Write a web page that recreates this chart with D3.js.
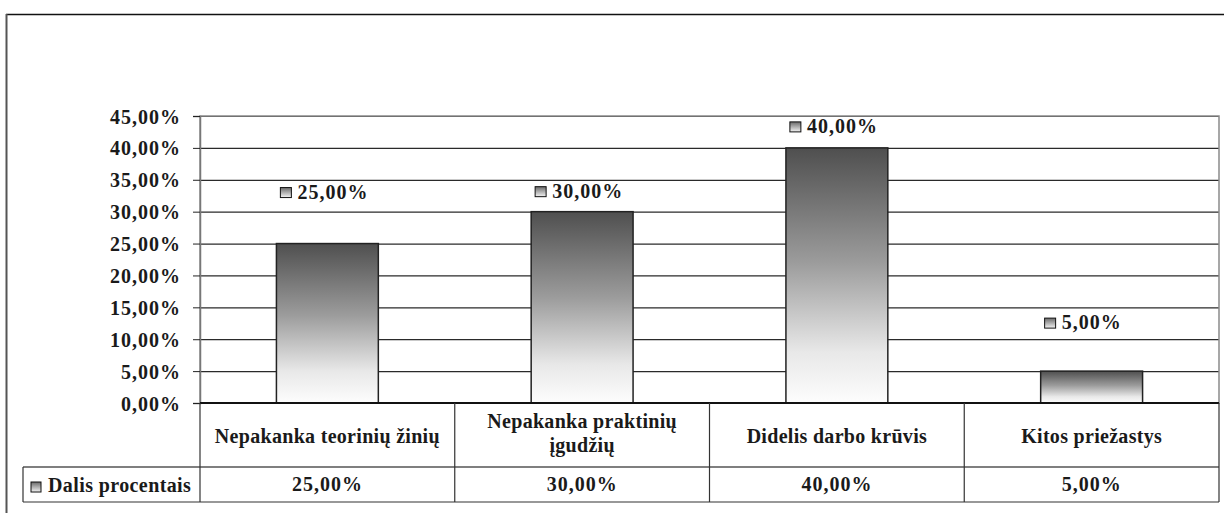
<!DOCTYPE html>
<html>
<head>
<meta charset="utf-8">
<script src="https://cdn.jsdelivr.net/npm/d3@7"></script>
<style>
  body { margin: 0; background: #fff; }
  text { font-family: "Liberation Serif", "Times New Roman", serif; font-weight: bold; fill: #1a1a1a; }
</style>
</head>
<body>
<script>
// data
var categories = ["Nepakanka teorinių žinių", "Nepakanka praktinių įgudžių", "Didelis darbo krūvis", "Kitos priežastys"];
var values = [25, 30, 40, 5];
var seriesName = "Dalis procentais";
var yTicks = [0, 5, 10, 15, 20, 25, 30, 35, 40, 45];

// label lift above bar top (px), as placed in the original
var labelLift = [45, 14, 15, 42];

var w = 1224;
var h = 513;
var plotLeft = 200, plotRight = 1219, plotTop = 116, plotBottom = 403;
var row1 = 467, row2 = 502, legendLeft = 23;

function fmt(v) {
    return v.toFixed(2).replace(".", ",") + "%";
}

var svg = d3.select("body")
    .append("svg")
    .attr("width", w)
    .attr("height", h);

var defs = svg.append("defs");
var grad = defs.append("linearGradient")
    .attr("id", "barGrad")
    .attr("x1", 0).attr("y1", 0).attr("x2", 0).attr("y2", 1);
grad.append("stop").attr("offset", "0%").attr("stop-color", "#4f4f4f");
grad.append("stop").attr("offset", "45%").attr("stop-color", "#9c9c9c");
grad.append("stop").attr("offset", "80%").attr("stop-color", "#e8e8e8");
grad.append("stop").attr("offset", "100%").attr("stop-color", "#fdfdfd");

var mgrad = defs.append("linearGradient")
    .attr("id", "markGrad")
    .attr("x1", 0).attr("y1", 0).attr("x2", 0).attr("y2", 1);
mgrad.append("stop").attr("offset", "0%").attr("stop-color", "#6a6a6a");
mgrad.append("stop").attr("offset", "100%").attr("stop-color", "#f4f4f4");

// outer chart border (runs off right/bottom edge)
svg.append("line").attr("x1", 6).attr("x2", w).attr("y1", 14.5).attr("y2", 14.5)
    .attr("stroke", "#111").attr("stroke-width", 1.5);
svg.append("line").attr("x1", 6.5).attr("x2", 6.5).attr("y1", 14).attr("y2", h)
    .attr("stroke", "#555").attr("stroke-width", 2);

//Create scale functions
var xScale = d3.scaleBand()
    .domain(categories)
    .range([plotLeft, plotRight]);

var yScale = d3.scaleLinear()
    .domain([0, 45])
    .range([plotBottom, plotTop]);

// gridlines
var grid = d3.axisLeft(yScale).tickValues(yTicks).tickSize(-(plotRight - plotLeft)).tickFormat("");
var gg = svg.append("g")
    .attr("transform", "translate(" + plotLeft + ",0)")
    .call(grid);
gg.select(".domain").remove();
gg.selectAll("line").attr("stroke", "#2a2a2a").attr("stroke-width", 1.2);

// plot frame
svg.append("rect")
    .attr("x", plotLeft).attr("y", plotTop)
    .attr("width", plotRight - plotLeft).attr("height", plotBottom - plotTop)
    .attr("fill", "none").attr("stroke", "#8a8a8a").attr("stroke-width", 1.5);

// bars
var barW = xScale.bandwidth() * 0.4;
svg.selectAll("rect.bar")
    .data(values)
    .enter()
    .append("rect")
    .attr("class", "bar")
    .attr("x", function(d, i) { return xScale(categories[i]) + (xScale.bandwidth() - barW) / 2; })
    .attr("y", function(d) { return yScale(d); })
    .attr("width", barW)
    .attr("height", function(d) { return yScale(0) - yScale(d); })
    .attr("fill", "url(#barGrad)")
    .attr("stroke", "#222")
    .attr("stroke-width", 1.5);

// data labels
var lab = svg.selectAll("g.lab")
    .data(values)
    .enter()
    .append("g")
    .attr("class", "lab")
    .attr("transform", function(d, i) {
        var cx = xScale(categories[i]) + xScale.bandwidth() / 2;
        return "translate(" + cx + "," + (yScale(d) - labelLift[i]) + ")";
    });
lab.append("rect")
    .attr("x", -47).attr("y", -11).attr("width", 11).attr("height", 10)
    .attr("fill", "url(#markGrad)").attr("stroke", "#111").attr("stroke-width", 1);
lab.append("text")
    .attr("x", -30)
    .attr("font-size", 20)
    .style("letter-spacing", "1px")
    .text(function(d) { return fmt(d); });

// y axis
var yAxis = d3.axisLeft(yScale).tickValues(yTicks).tickSize(7).tickFormat(fmt);
var ya = svg.append("g")
    .attr("transform", "translate(" + plotLeft + ",0)")
    .call(yAxis);
ya.attr("font-family", null).attr("font-size", null);
ya.select(".domain").attr("stroke", "#777").attr("stroke-width", 1.5);
ya.selectAll(".tick line").attr("stroke", "#222");
ya.selectAll(".tick text")
    .attr("x", -19)
    .attr("dy", "0.35em")
    .attr("font-size", 20)
    .attr("fill", "#1a1a1a")
    .style("letter-spacing", "1px");

// data table
var tbl = svg.append("g");
tbl.append("line").attr("x1", plotLeft).attr("x2", plotRight).attr("y1", plotBottom).attr("y2", plotBottom)
    .attr("stroke", "#111").attr("stroke-width", 2);
tbl.append("line").attr("x1", legendLeft).attr("x2", plotRight).attr("y1", row1).attr("y2", row1)
    .attr("stroke", "#555").attr("stroke-width", 1.5);
tbl.append("line").attr("x1", legendLeft).attr("x2", plotRight).attr("y1", row2).attr("y2", row2)
    .attr("stroke", "#333").attr("stroke-width", 1.2);
tbl.append("line").attr("x1", legendLeft).attr("x2", legendLeft).attr("y1", row1).attr("y2", row2)
    .attr("stroke", "#333").attr("stroke-width", 1.2);

var cols = categories.map(function(c) { return xScale(c); }).concat([plotRight]);
tbl.selectAll("line.col")
    .data(cols)
    .enter()
    .append("line")
    .attr("class", "col")
    .attr("x1", function(d) { return d; })
    .attr("x2", function(d) { return d; })
    .attr("y1", plotBottom)
    .attr("y2", row2)
    .attr("stroke", "#333")
    .attr("stroke-width", 1.2);

// category labels (wrap long ones)
var catLines = [["Nepakanka teorinių žinių"], ["Nepakanka praktinių", "įgudžių"], ["Didelis darbo krūvis"], ["Kitos priežastys"]];
var ct = tbl.selectAll("text.cat")
    .data(categories)
    .enter()
    .append("text")
    .attr("class", "cat")
    .attr("text-anchor", "middle")
    .attr("font-size", 20)
    .style("letter-spacing", "0.3px")
    .attr("y", function(d, i) { return catLines[i].length > 1 ? 428 : 443; });
ct.each(function(d, i) {
    var t = d3.select(this);
    catLines[i].forEach(function(line, j) {
        t.append("tspan")
            .attr("x", xScale(d) + xScale.bandwidth() / 2)
            .attr("dy", j === 0 ? 0 : 24)
            .text(line);
    });
});

// value row
tbl.selectAll("text.val")
    .data(values)
    .enter()
    .append("text")
    .attr("class", "val")
    .attr("text-anchor", "middle")
    .attr("font-size", 20)
    .attr("x", function(d, i) { return xScale(categories[i]) + xScale.bandwidth() / 2; })
    .attr("y", 491)
    .style("letter-spacing", "1px")
    .text(function(d) { return fmt(d); });

// legend key in table
tbl.append("rect")
    .attr("x", 31).attr("y", 482).attr("width", 10).attr("height", 10)
    .attr("fill", "url(#markGrad)").attr("stroke", "#111").attr("stroke-width", 1);
tbl.append("text")
    .attr("x", 48).attr("y", 492)
    .attr("font-size", 20)
    .style("letter-spacing", "0.4px")
    .text(seriesName);
</script>
</body>
</html>
